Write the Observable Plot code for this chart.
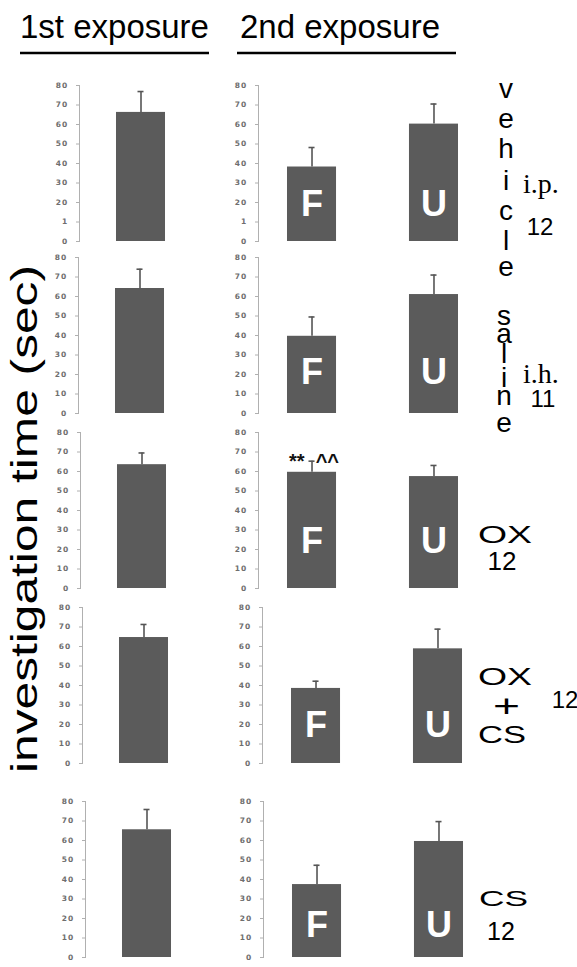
<!DOCTYPE html>
<html><head><meta charset="utf-8">
<script src="https://cdn.jsdelivr.net/npm/d3@7"></script>
<script src="https://cdn.jsdelivr.net/npm/@observablehq/plot@0.6"></script>
<style>
body{margin:0;background:#fff;}
#fig{position:relative;width:577px;height:967px;overflow:hidden;background:#fff;font-family:"Liberation Sans",Arial,sans-serif;}
.panel{position:absolute;}
.panel svg{overflow:visible;background:transparent;}
g[aria-label="y-axis tick label"] text{letter-spacing:1.2px;fill:#6e6e6e;}
g[aria-label="y-axis tick"]{stroke:#b0b0b0;}
#overlay{position:absolute;left:0;top:0;pointer-events:none;}
</style></head><body><div id="fig"></div>
<script>
// ---- data ----
const groups = ["vehicle", "saline", "OX", "OX + CS", "CS"];
const routes = ["i.p.", "i.h.", "", "", ""];
const nPerGroup = ["12", "11", "12", "12", "12"];
const firstMean = [66.2, 64.1, 63.5, 64.6, 65.5];
const firstSem = [10.7, 9.9, 6.0, 6.7, 10.4];
const familiarMean = [38.2, 39.6, 59.6, 38.5, 37.4];
const familiarSem = [10.0, 9.9, 5.7, 3.7, 9.9];
const unfamiliarMean = [60.2, 61.0, 57.4, 58.8, 59.5];
const unfamiliarSem = [10.3, 10.0, 5.7, 10.1, 10.2];
const secondCategories = ["F", "U"];
const firstCategory = ["1st"];
const yTicks = [0, 10, 20, 30, 40, 50, 60, 70, 80];
const yTickLabelsRow1 = ["0", "1", "20", "30", "40", "50", "60", "70", "80"];
const yTickLabels = ["0", "10", "20", "30", "40", "50", "60", "70", "80"];
const headers = ["1st exposure", "2nd exposure"];
const yTitle = "investigation time (sec)";
const annotations = [{row: 2, cat: "F", text: "**  ^^"}];

// ---- layout (styling only) ----
const rowTop = [85, 256.7, 432.4, 606.5, 801];
const leftAxisX = [79, 78, 80, 82, 85];
const rightAxisX = [258, 258, 258, 261.7, 263.3];
const labelLift = [37, 41, 47, 38, 32];
const M = 40, MT = 6;

const fig = document.getElementById("fig");

function panel(data, opts) {
  const {domain, frameW, paddingInner, paddingOuter, tickLabels, lift, annot, labels} = opts;
  const marks = [
    Plot.barY(data, {x: "cat", y: "value", fill: "#5b5b5b"}),
    Plot.ruleX(data, {x: "cat", y1: "value", y2: d => d.value + d.sem, stroke: "#555", strokeWidth: 1.6}),
    Plot.tickY(data, {x: "cat", y: d => d.value + d.sem, stroke: "#555", strokeWidth: 1.6, insetLeft: 21.5, insetRight: 21.5}),
    Plot.frame({anchor: "left", stroke: "#b0b0b0"}),
    Plot.axisY({ticks: yTicks, tickFormat: d => tickLabels[yTicks.indexOf(d)], tickSize: 3, tickPadding: 8, label: null,
      stroke: "#b0b0b0", fill: "#6e6e6e", fontSize: 7.5, fontWeight: "bold", fontFamily: "DejaVu Sans"})
  ];
  if (labels) marks.push(Plot.text(data, {x: "cat", text: "cat", frameAnchor: "bottom", lineAnchor: "middle",
    dy: -lift, fill: "white", fontSize: 36, fontWeight: "bold", fontFamily: "Liberation Sans, Arial"}));
  if (annot.length) marks.push(Plot.text(annot, {x: "cat", y: "y", text: "text", dx: 2, lineAnchor: "middle",
    fill: "#111", fontSize: 20, fontWeight: "bold", fontFamily: "Liberation Sans, Arial"}));
  return Plot.plot({
    width: M + frameW + 4, height: 156 + 2 * MT,
    marginLeft: M, marginRight: 4, marginTop: MT, marginBottom: MT,
    style: {background: "transparent", overflow: "visible"},
    x: {type: "band", domain, paddingInner, paddingOuter, align: 0.5, round: false, axis: null},
    y: {domain: [0, 80], axis: null},
    marks
  });
}

groups.forEach((g, r) => {
  const tl = r === 0 ? yTickLabelsRow1 : yTickLabels;
  const d1 = [{cat: firstCategory[0], value: firstMean[r], sem: firstSem[r]}];
  const d2 = [
    {cat: secondCategories[0], value: familiarMean[r], sem: familiarSem[r]},
    {cat: secondCategories[1], value: unfamiliarMean[r], sem: unfamiliarSem[r]}
  ];
  const ann = annotations.filter(a => a.row === r).map(a => {
    const d = d2.find(e => e.cat === a.cat);
    return {cat: a.cat, y: d.value + d.sem, text: a.text};
  });
  const p1 = panel(d1, {domain: firstCategory, frameW: 123, paddingInner: 0, paddingOuter: 0.755, tickLabels: tl, lift: 0, annot: [], labels: false});
  const p2 = panel(d2, {domain: secondCategories, frameW: 229, paddingInner: 0.598, paddingOuter: 0.2377, tickLabels: tl, lift: labelLift[r], annot: ann, labels: true});
  for (const [p, ax] of [[p1, leftAxisX[r]], [p2, rightAxisX[r]]]) {
    const div = document.createElement("div");
    div.className = "panel";
    div.style.left = (ax - M) + "px";
    div.style.top = (rowTop[r] - MT) + "px";
    div.appendChild(p);
    fig.appendChild(div);
  }
});

// ---- overlay text ----
const svg = d3.select(fig).append("svg").attr("id", "overlay").attr("width", 577).attr("height", 967);
const sans = "Liberation Sans, Arial, sans-serif";
function txt(s, x, y, size, o = {}) {
  const t = svg.append("text").attr("x", x).attr("y", y).attr("font-size", size)
    .attr("font-family", o.family || sans).attr("fill", "#000")
    .attr("text-anchor", o.anchor || "start").text(s);
  if (o.len) t.attr("textLength", o.len).attr("lengthAdjust", "spacingAndGlyphs");
  if (o.transform) t.attr("transform", o.transform);
  return t;
}
// headers
txt(headers[0], 20, 38, 33);
txt(headers[1], 240, 38, 33);
svg.append("line").attr("x1", 20).attr("x2", 209).attr("y1", 53).attr("y2", 53).attr("stroke", "#000").attr("stroke-width", 2.5);
svg.append("line").attr("x1", 237).attr("x2", 456).attr("y1", 53).attr("y2", 53).attr("stroke", "#000").attr("stroke-width", 2.5);
// y title
txt(yTitle, 0, 0, 36, {len: 508, transform: "translate(37,773) rotate(-90)"});
// vertical words
const vehicleBase = [98, 128, 158, 190, 220, 250, 276];
groups[0].split("").forEach((c, i) => txt(c, 506, vehicleBase[i], 28, {anchor: "middle"}));
const salineBase = [325, 343, 363, 387, 405, 432];
groups[1].split("").forEach((c, i) => txt(c, 504, salineBase[i], 28, {anchor: "middle"}));
txt(routes[0], 523, 193, 28, {family: "Liberation Serif, Times New Roman, serif"});
txt(nPerGroup[0], 540, 235, 24, {anchor: "middle"});
txt(routes[1], 523, 383, 28, {family: "Liberation Serif, Times New Roman, serif"});
txt(nPerGroup[1], 543, 407, 24, {anchor: "middle"});
// OX
txt(groups[2], 478, 543, 23, {len: 54});
txt(nPerGroup[2], 502, 570, 26, {anchor: "middle"});
// OX + CS
const oxcs = groups[3].split(" ");
txt(oxcs[0], 478, 685, 23, {len: 54});
txt(oxcs[1], 493, 716.5, 32, {len: 27});
txt(oxcs[2], 478, 743, 23, {len: 48});
txt(nPerGroup[3], 565, 708, 24, {anchor: "middle"});
// CS
txt(groups[4], 479, 906, 22, {len: 49});
txt(nPerGroup[4], 501, 940, 25, {anchor: "middle"});
</script></body></html>
